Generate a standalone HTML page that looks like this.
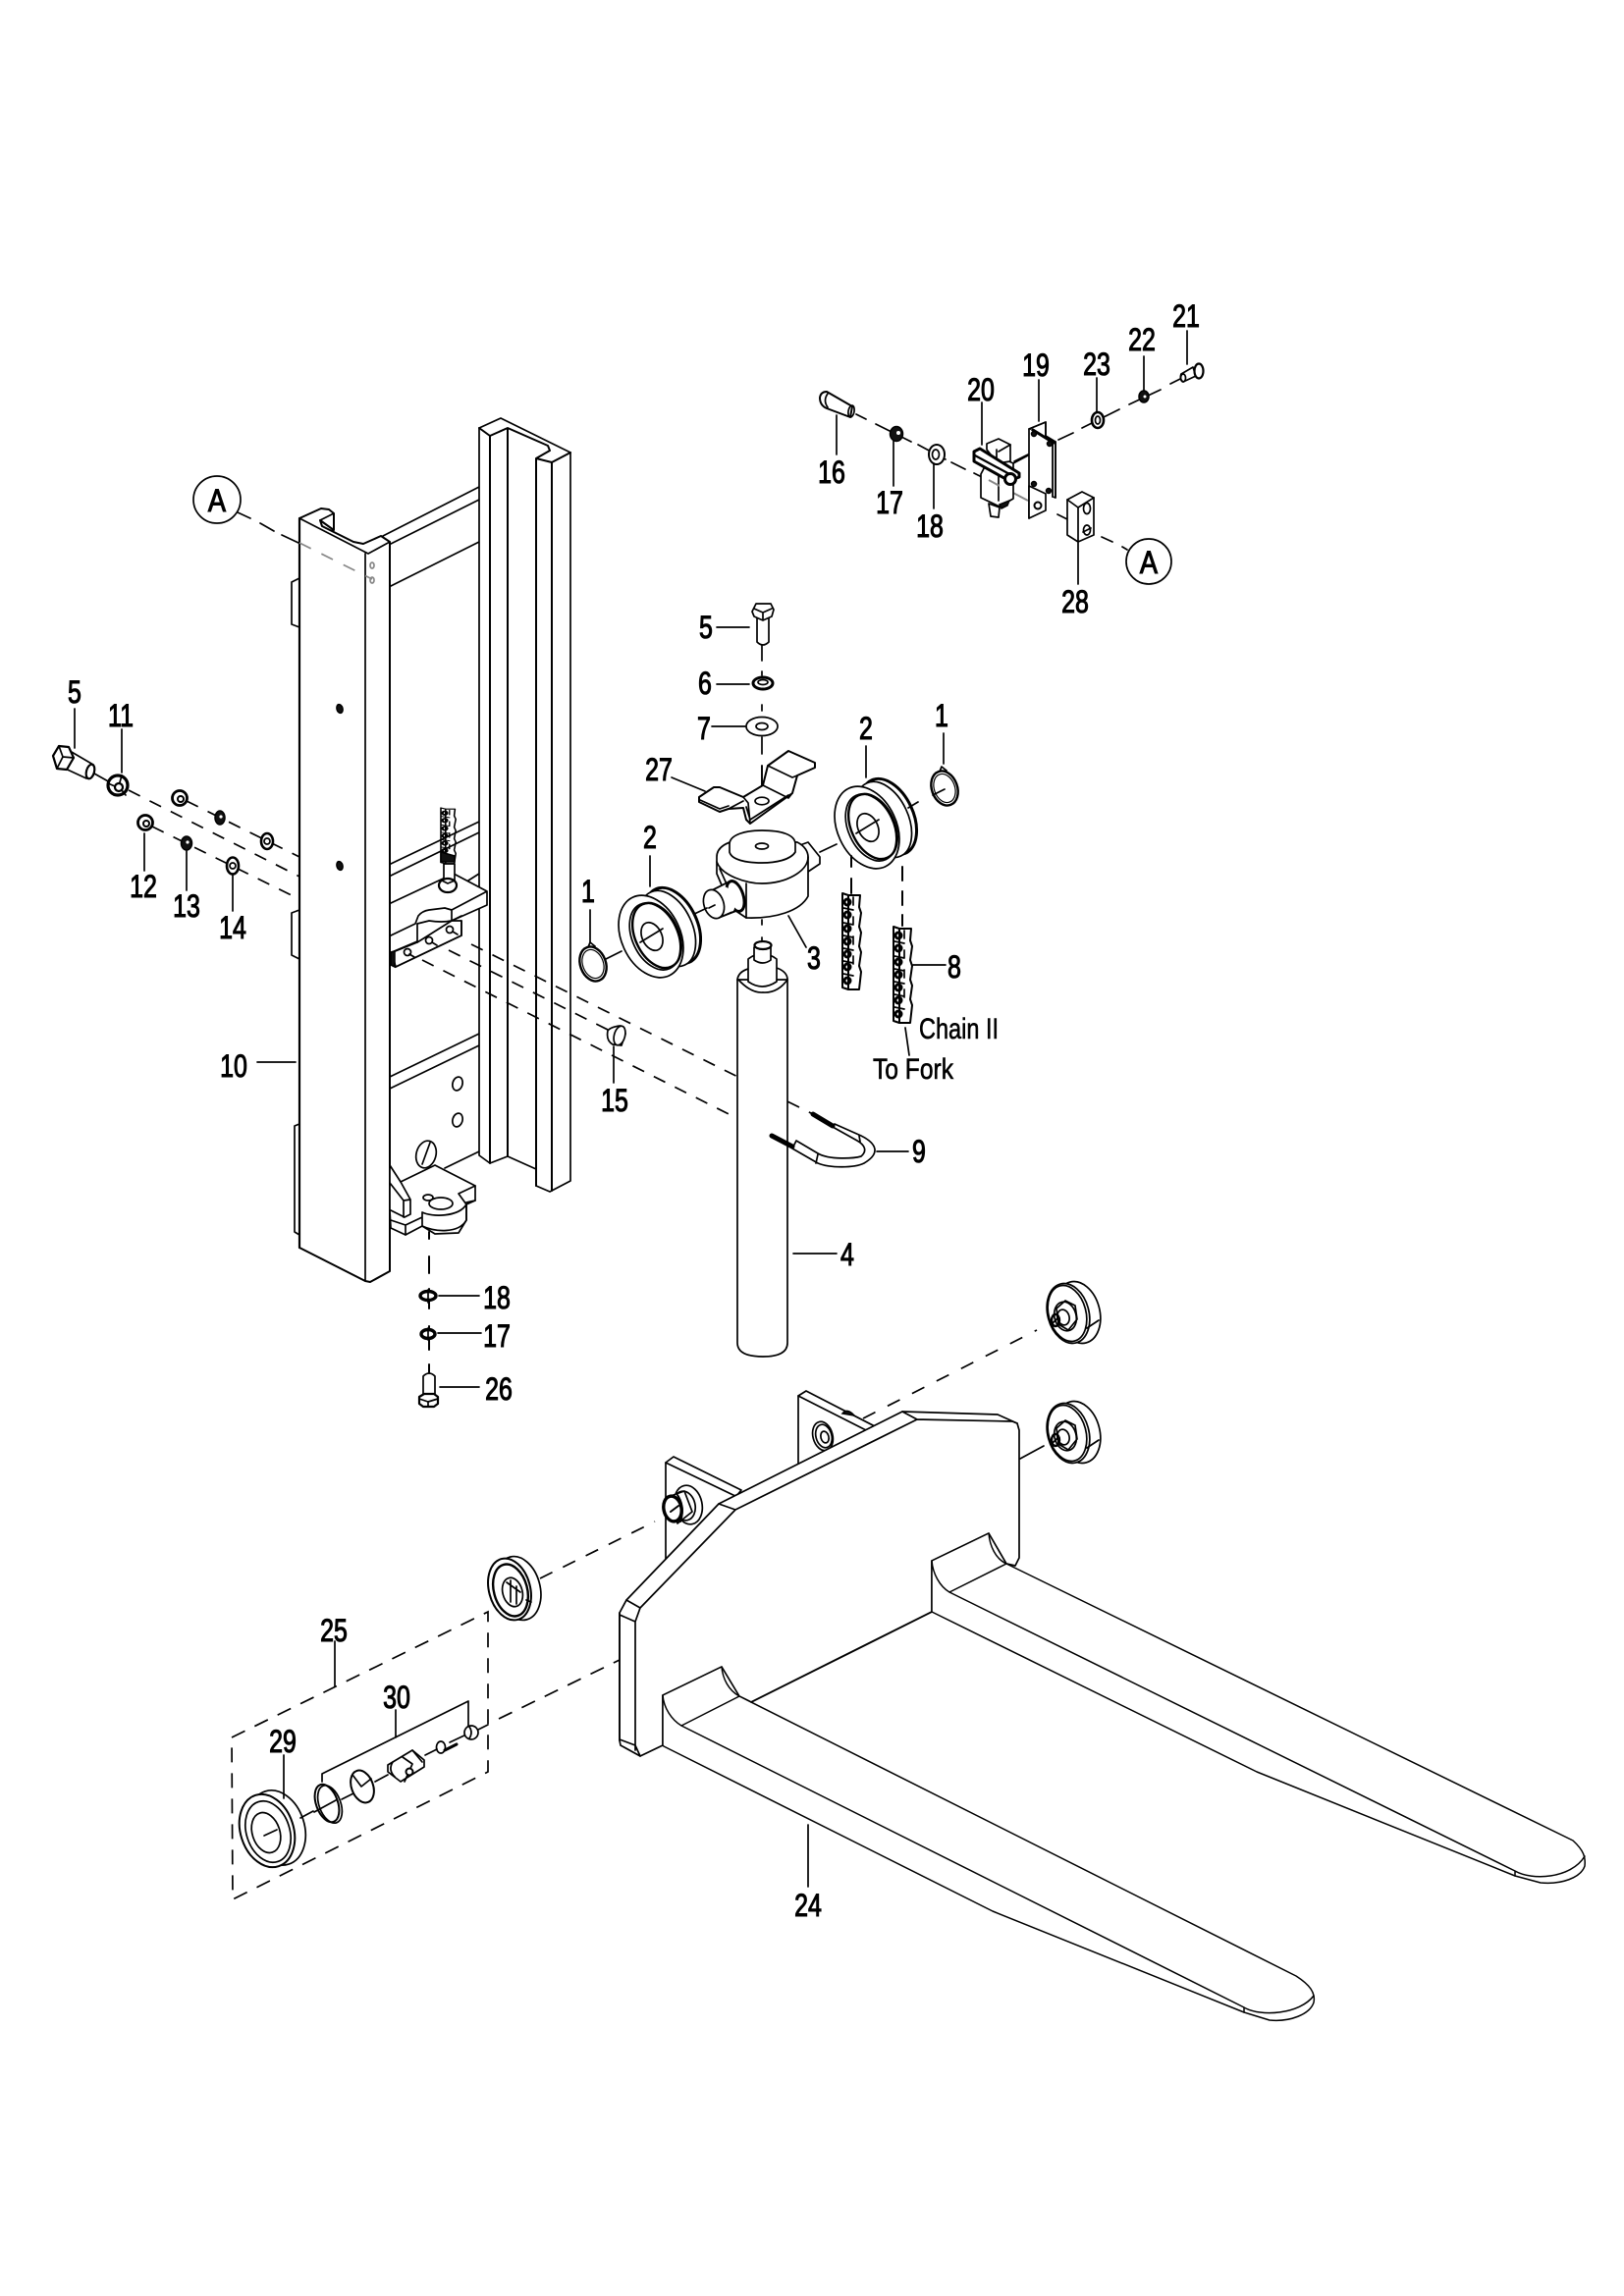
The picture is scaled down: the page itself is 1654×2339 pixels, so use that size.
<!DOCTYPE html>
<html><head><meta charset="utf-8"><title>Parts diagram</title>
<style>
html,body{margin:0;padding:0;background:#fff}
svg{display:block}
.l{fill:none;stroke:#000;stroke-width:1.7;stroke-linejoin:round;stroke-linecap:round}
.w{fill:#fff;stroke:#000;stroke-width:1.7;stroke-linejoin:round}
.b{fill:#fff;stroke:#000;stroke-width:3}
.k{fill:#111;stroke:#000;stroke-width:1.5}
.d{fill:none;stroke:#000;stroke-width:1.7;stroke-dasharray:13 11}
.g{fill:none;stroke:#888;stroke-width:1.7}
.t{font-family:"Liberation Sans",sans-serif;font-size:32px;fill:#000;stroke:#000;stroke-width:1.1;text-anchor:middle}
.s{font-family:"Liberation Sans",sans-serif;font-size:30px;fill:#000;stroke:#000;stroke-width:.6}
</style></head><body>
<svg xmlns="http://www.w3.org/2000/svg" xmlns:xlink="http://www.w3.org/1999/xlink" width="1654" height="2339" viewBox="0 0 1654 2339">
<defs>
<g id="pulley">
<ellipse class="w" cx="905" cy="832" rx="25" ry="41" transform="rotate(-25 905 832)" style="stroke-width:3"/>
<ellipse class="w" cx="900" cy="835" rx="25" ry="41" transform="rotate(-25 900 835)"/>
<ellipse class="w" cx="883" cy="843" rx="30" ry="44" transform="rotate(-25 883 843)"/>
<ellipse class="l" cx="887" cy="843" rx="23" ry="36" transform="rotate(-25 887 843)"/>
<ellipse class="l" cx="889" cy="842" rx="22" ry="35" transform="rotate(-25 889 842)" style="stroke-width:2.4"/>
<ellipse class="l" cx="884" cy="843" rx="10" ry="15" transform="rotate(-25 884 843)"/>
<path class="l" d="M872 849L895 835"/>
</g>
<g id="chain">
<path class="l" d="M0 0L6 2L6 98L0 96ZM6 2L18 2L17 14L19 20L17 34L19 40L17 54L19 60L17 74L19 80L17 98L6 98" style="stroke-width:2"/>
<g class="l" style="stroke-width:3">
<circle cx="5" cy="9" r="3"/><circle cx="5" cy="22" r="3"/><circle cx="5" cy="36" r="3"/><circle cx="5" cy="49" r="3"/><circle cx="5" cy="62" r="3"/><circle cx="5" cy="75" r="3"/><circle cx="5" cy="89" r="3"/>
</g>
<path class="l" d="M1 15L11 17M1 30L11 32M1 43L11 45M1 56L11 58M1 69L11 71M1 82L11 84M11 4V12M11 24V32M11 44V52M11 64V72"/>
</g>
<g id="rw">
<ellipse class="w" cx="1098" cy="1337" rx="22" ry="32" transform="rotate(-15 1098 1337)"/>
<ellipse class="w" cx="1088" cy="1338" rx="21" ry="31" transform="rotate(-15 1088 1338)"/>
<ellipse class="l" cx="1087" cy="1338" rx="19" ry="29" transform="rotate(-15 1087 1338)"/>
<path class="l" d="M1076 1333L1085 1325L1095 1330L1097 1344L1088 1355L1078 1349Z"/>
<ellipse class="l" cx="1085" cy="1341" rx="11" ry="15" transform="rotate(-15 1085 1341)"/>
<ellipse class="l" cx="1083" cy="1342" rx="6" ry="8" transform="rotate(-15 1083 1342)"/>
<ellipse class="l" cx="1075" cy="1345" rx="4" ry="6" style="stroke-width:2.4"/>
<path class="l" d="M1107 1353L1119 1345M1071 1349L1078 1342"/>
</g>
</defs>

<!-- cross bars behind mast -->
<path class="l" d="M390 546L488 496M398 554L488 509M398 597L488 552M398 880L488 837M398 892L488 848M398 920L462 890M477 897L488 890M397 1097L488 1053M397 1109L488 1065M453 1190L488 1173"/>
<ellipse class="l" cx="466" cy="1104" rx="5" ry="7" transform="rotate(15 466 1104)"/>
<ellipse class="l" cx="466" cy="1141" rx="5" ry="7" transform="rotate(15 466 1141)"/>
<ellipse class="l" cx="434" cy="1176" rx="10" ry="14" transform="rotate(15 434 1176)"/>
<path class="l" d="M430 1186L438 1164"/>

<!-- right channel -->
<path class="w" d="M488 436L510 426L581 461L581 1203L560 1214L546 1208L546 1191L517 1178L499 1185L488 1177Z"/>
<path class="l" d="M488 436L499 444L517 436L558 454L560 459L546 467L562 471L581 461M499 444V1185M517 436V1178M546 467V1208M562 471V1213" style="stroke-width:2"/>

<!-- dashed lines through channel -->
<path class="d" d="M480 962L828 1135"/>
<path class="d" d="M457 968L623 1051"/>
<path class="d" d="M430 978L786 1157"/>

<!-- mast front -->
<path class="w" d="M305 528L327 518L335 519L340 523L340 540L326 530L328 536L360 552L370 554L388 546L397 552L397 1295L377 1306L372 1305L305 1271Z" style="stroke-width:2"/>
<path class="l" d="M305 528L375 564L397 552M372 564V1305M326 530L340 523"/>
<path class="l" d="M305 528V1271" style="stroke-width:2.2"/>
<path class="l" d="M305 589L297 593V636L305 639M305 927L297 930V973L305 977M305 1145L300 1147V1255L305 1258"/>
<ellipse class="k" cx="346" cy="722" rx="3" ry="4.5" transform="rotate(-15 346 722)"/>
<ellipse class="k" cx="346" cy="882" rx="3" ry="4.5" transform="rotate(-15 346 882)"/>
<ellipse class="g" cx="379" cy="576" rx="2" ry="3"/>
<ellipse class="g" cx="379" cy="591" rx="2" ry="3"/>

<!-- A left -->
<ellipse class="l" cx="221" cy="509" rx="24" ry="24"/>
<text class="t" transform="translate(221 521) scale(.85 1)">A</text>
<path class="l" d="M242 522L255 528M265 533L279 541M287 545L304 553"/>
<path class="g" stroke-dasharray="13 12" d="M305 553L379 590"/>

<!-- mid bracket -->
<path class="w" d="M399 971L400 970L425 960L460 938L470 938L470 953L403 985L399 983Z"/>
<path class="w" d="M398 946L423 934L425 925L437 920L453 918L462 890L496 908L496 922L460 938L425 950Z" style="fill:#fff;stroke:none"/>
<path class="l" d="M398 953L423 941M425 941V960M423 941L426 933Q430 928 437 927L453 925L460 927L496 908L462 890M496 908V922L460 938V927M425 941L437 938Q450 940 460 938"/>
<path class="l" d="M399 970L425 959M470 938V953L403 985L399 983V970L403 985M460 938L470 933" />
<path class="k" d="M398 970L402 969V985L398 983Z"/>
<circle class="l" cx="415" cy="970" r="3.5"/><path class="l" d="M417 972L422 975"/>
<circle class="l" cx="437" cy="958" r="3.5"/><path class="l" d="M440 960L445 963"/>
<circle class="l" cx="458" cy="947" r="3.5"/><path class="l" d="M461 949L466 952"/>
<use xlink:href="#chain" href="#chain" transform="translate(449 823) scale(.8 .58)"/>
<path class="k" d="M449 868L463 872V878L449 878Z"/>
<path class="w" d="M452 880H463V898H452Z"/>
<ellipse class="w" cx="456" cy="902" rx="9" ry="7" style="stroke-width:2.2"/>
<path class="l" d="M450 897L456 900L463 897"/>

<!-- bottom bracket -->
<path class="w" d="M397 1187L408 1204L443 1187L484 1208V1223L475 1227V1243L467 1256L443 1257L430 1249L413 1258L398 1251L397 1233Z"/>
<path class="l" d="M408 1204L418 1222V1237L412 1240L398 1233M397 1205L411 1223L418 1222M411 1223V1240M398 1243L413 1248V1258M413 1248L430 1240M430 1235V1249M430 1235C440 1240 467 1240 475 1227V1243C467 1257 443 1255 430 1249M467 1216L475 1227M467 1216L484 1208M475 1225L484 1223"/>
<ellipse class="l" cx="449" cy="1226" rx="12" ry="6"/>
<ellipse class="l" cx="436" cy="1220" rx="5" ry="3"/>

<!-- 18 17 26 -->
<path class="l" d="M437 1255V1262M437 1280V1297M437 1313V1333M437 1351V1375M437 1390V1400" style="stroke-width:2"/>
<ellipse class="b" cx="436" cy="1320" rx="8" ry="4.5" style="stroke-width:3.4"/>
<ellipse class="b" cx="436" cy="1359" rx="7" ry="4.5" style="stroke-width:3.4"/>
<path class="l" d="M436 1314V1327M436 1353V1365"/>
<path class="w" d="M431 1402Q437 1396 443 1402V1421H431Z"/>
<path class="w" d="M427 1423L432 1420H442L446 1423V1430L442 1433H431L427 1430Z" style="stroke-width:2.2"/>
<path class="l" d="M427 1425L436 1428L446 1425M436 1428V1433"/>

<!-- leaders bottom left -->
<path class="l" d="M447 1320H488M446 1358H490M448 1413H488M262 1082H301M625 1066V1103"/>

<!-- left axes -->
<path class="d" d="M190 816L305 873"/>
<path class="d" d="M131 805L305 893"/>
<path class="d" d="M155 842L305 916"/>
<path class="w" d="M66 762L95 779L88 793L60 780Z"/>
<ellipse class="w" cx="92" cy="786" rx="4" ry="7.5" transform="rotate(15 92 786)" style="stroke-width:2.2"/>
<path class="w" d="M54 770L60 760L70 761L75 772L68 784L58 783Z" style="stroke-width:2.2"/>
<path class="l" d="M60 760L64 771L58 783M64 771L75 772M96 788L112 797"/>
<circle class="b" cx="120" cy="800" r="10" style="stroke-width:3.2"/>
<circle class="l" cx="121" cy="802" r="4" style="stroke-width:2.2"/>
<path class="l" d="M110 798L117 801M124 790L122 797M124 805L128 810"/>
<circle class="b" cx="183" cy="813" r="7.5" style="stroke-width:2.8"/>
<circle class="l" cx="184" cy="814" r="3" style="stroke-width:2"/>
<ellipse class="k" cx="224" cy="833" rx="5" ry="7"/><circle cx="225" cy="832" r="1.6" fill="#fff"/>
<ellipse class="b" cx="272" cy="857" rx="6" ry="8" style="stroke-width:2.6"/>
<circle class="l" cx="272" cy="857" r="3"/>
<circle class="b" cx="148" cy="838" r="7.5" style="stroke-width:2.8"/>
<circle class="l" cx="149" cy="839" r="3" style="stroke-width:2"/>
<ellipse class="k" cx="190" cy="859" rx="5.5" ry="7"/><circle cx="191" cy="858" r="1.6" fill="#fff"/>
<ellipse class="b" cx="237" cy="882" rx="6" ry="8.5" style="stroke-width:2.6"/>
<circle class="l" cx="237" cy="882" r="3"/>
<path class="l" d="M76 722V762M124 743V787M147 849V887M190 867V907M237 890V928"/>

<!-- pin 15 -->
<path class="w" d="M619 1050Q622 1046 632 1045L637 1053L633 1065L624 1064Q617 1060 619 1050Z"/>
<ellipse class="w" cx="631" cy="1055" rx="5.5" ry="10" transform="rotate(15 631 1055)"/>

<!-- cylinder 4 -->
<path class="w" d="M751 998V1368Q751 1382 777 1382Q802 1382 802 1368V1000L802 998Z"/>
<path class="l" d="M751 998Q752 990 762 987M802 998Q802 990 791 986M752 998Q765 1012 777 1011Q792 1012 802 998"/>
<path class="w" d="M762 977V1000Q776 1010 791 1000V977Q776 966 762 977Z"/>
<path class="w" d="M768 965V978Q777 984 785 978V965Z"/>
<ellipse class="w" cx="777" cy="963" rx="8.5" ry="4" style="stroke-width:2.2"/>
<path class="l" d="M776 937V942M776 955V958"/>
<path class="l" d="M808 1277H852"/>

<!-- U bolt 9 -->
<path class="w" d="M850 1145L877 1157C893 1165 897 1175 880 1185C870 1190 845 1190 833 1185L807 1170L811 1162L833 1175C845 1182 870 1180 877 1178C884 1172 880 1166 873 1162L848 1148Z"/>
<path class="l" d="M875 1157L876 1163M833 1176L831 1185"/>
<path class="l" d="M828 1135L848 1147M786 1157L807 1168" style="stroke-width:5"/>
<path class="l" d="M893 1173H925"/>

<!-- block 3 -->
<path class="w" d="M812 862L823 858L835 873V880L823 888L812 892Z"/>
<path class="w" d="M730 873C730 862 742 858 750 856L812 858C820 862 823 868 823 873V913C815 928 790 936 760 935L745 925L730 890Z"/>
<path class="l" d="M730 878C735 892 760 900 776 900C800 900 823 888 823 873M760 900V935M733 885L742 905"/>
<path class="w" d="M743 860C743 850 760 846 776 846C795 846 810 850 810 860V868C805 876 790 879 776 879C760 879 745 876 743 868Z"/>
<path class="l" d="M743 860C745 870 760 874 776 874M810 860V868"  style="stroke:none"/>
<ellipse class="l" cx="776" cy="862" rx="6.5" ry="3"/>
<path class="w" d="M723 908L743 898L755 925L732 935Z"/>
<ellipse class="b" cx="749" cy="913" rx="8" ry="16" transform="rotate(-18 749 913)"/>
<ellipse class="w" cx="742" cy="916" rx="5" ry="13" transform="rotate(-18 742 916)" style="stroke:none"/>
<path class="l" d="M723 908L743 898M732 935L750 928"/>
<ellipse class="w" cx="727" cy="921" rx="10" ry="15" transform="rotate(-18 727 921)"/>
<path class="l" d="M728 922L722 925M720 925L703 933M852 860L835 868M803 933L821 965"/>

<!-- bolt 5,6,7 -->
<path class="w" d="M771 628V654Q777 660 783 654V628Z"/>
<path class="w" d="M766 623L770 615H785L788 621L786 628L777 632L768 628Z"/>
<path class="l" d="M768 620L777 624L786 620M777 624V631M776 658V673M776 684V688M776 718V724M776 751V768M776 780V800"/>
<ellipse class="b" cx="777" cy="696" rx="10" ry="6"/>
<ellipse class="l" cx="777" cy="695" rx="5" ry="2.5"/>
<ellipse class="w" cx="776" cy="740" rx="16" ry="9.5"/>
<ellipse class="l" cx="776" cy="740" rx="6" ry="3.5"/>
<path class="l" d="M730 639H763M730 697H763M725 740H759"/>

<!-- bracket 27 -->
<path class="w" d="M712 812L727 802L733 802L757 812L777 800L782 780L803 765L830 777V782L812 790L807 808L764 839L760 835L757 823L742 824L733 827L712 817Z" style="stroke-width:2"/>
<path class="l" d="M782 780L807 792L812 790M777 800L803 813L807 808M757 812L762 818L764 839M742 824L757 816M713 815L733 824L742 821M760 822L764 835L803 810"/>
<path class="l" d="M776 780V800"/>
<ellipse class="l" cx="776" cy="816" rx="7" ry="3.8"/>
<path class="l" d="M684 792L718 806"/>

<!-- pulleys -->
<use xlink:href="#pulley" href="#pulley"/>
<use xlink:href="#pulley" href="#pulley" transform="translate(-220 111)"/>

<!-- rings 1 -->
<ellipse class="l" cx="962" cy="803" rx="13" ry="18" transform="rotate(-20 962 803)" style="stroke-width:2.4"/>
<ellipse class="l" cx="962" cy="803" rx="10.5" ry="15" transform="rotate(-20 962 803)" style="stroke-width:1.2"/>
<ellipse class="l" cx="604" cy="982" rx="13" ry="18" transform="rotate(-20 604 982)" style="stroke-width:2.4"/>
<ellipse class="l" cx="604" cy="982" rx="10.5" ry="15" transform="rotate(-20 604 982)" style="stroke-width:1.2"/>
<path class="l" d="M957 786L959 781L964 785M599 965L601 960L606 964"/>
<path class="l" d="M935 817L925 823M962 804L950 810M617 977L633 969M961 747V778M601 927V960M882 760V792M662 872V903"/>

<!-- chains -->
<path class="l" d="M867 872V883M867 895V910M919 883V897M919 908V922M919 932V943" style="stroke-width:2"/>
<use xlink:href="#chain" href="#chain" transform="translate(858 910)"/>
<use xlink:href="#chain" href="#chain" transform="translate(910 944)"/>
<path class="l" d="M930 983H963M922 1047L926 1075"/>

<!-- top right assembly -->
<path class="w" d="M835 405Q836 399 842 399L868 414L866 425L842 416Q835 413 835 405Z" style="stroke-width:2"/>
<ellipse class="l" cx="867" cy="419" rx="3" ry="6" transform="rotate(10 867 419)"/>
<path class="l" d="M843 401Q838 408 843 415"/>
<path class="l" d="M872 422L882 427M892 432L912 442M918 445L928 450M935 453L963 468M969 471L983 478M992 482L1002 487M1077 524L1087 529M1122 547L1133 552M1143 557L1148 560"/>
<path class="g" d="M1007 489L1047 510" style="stroke-width:2"/>
<path class="l" d="M1192 391L1202 386M1150 412L1182 397M1102 436L1140 417M1078 448L1093 441M1052 462L1070 452M1032 472L1047 464"/>
<ellipse class="k" cx="913" cy="442" rx="6.5" ry="7.5"/><circle cx="915" cy="441" r="2" fill="#fff"/>
<ellipse class="b" cx="954" cy="463" rx="8" ry="10" style="stroke-width:2"/>
<ellipse class="l" cx="953" cy="463" rx="3.5" ry="5"/>
<ellipse class="b" cx="1118" cy="428" rx="6" ry="8" style="stroke-width:2.6"/>
<ellipse class="l" cx="1118" cy="428" rx="2.5" ry="4"/>
<ellipse class="k" cx="1165" cy="404" rx="5" ry="6"/><circle cx="1166" cy="404" r="1.5" fill="#fff"/>
<path class="w" d="M1203 381L1215 374L1218 383L1205 389Q1201 386 1203 381Z"/>
<ellipse class="l" cx="1205" cy="385" rx="2.5" ry="4"/>
<ellipse class="b" cx="1221" cy="378" rx="4.5" ry="7.5" style="stroke-width:2.2"/>

<!-- plate 19 -->
<path class="w" d="M1048 437L1065 430V444L1075 450V507L1072 506V452L1048 437Z"/>
<path class="w" d="M1048 437L1072 452V506L1065 503L1048 495Z" style="stroke:none"/>
<path class="l" d="M1072 452V506M1075 450V507"/>
<path class="l" d="M1048 437V528M1048 437L1065 430V444"/>
<path class="w" d="M1048 495L1065 503V520L1048 528Z"/>
<path class="l" d="M1052 438L1073 451" style="stroke-width:3"/>
<circle class="k" cx="1053" cy="442" r="2.5"/><circle class="k" cx="1069" cy="452" r="2.5"/>
<circle class="k" cx="1053" cy="493" r="2.5"/><circle class="k" cx="1068" cy="500" r="2.5"/>
<circle class="b" cx="1057" cy="515" r="3.5" style="stroke-width:2"/>

<!-- switch 20 -->
<path class="w" d="M999 483V507L1018 516L1032 508V472L1010 462Z"/>
<path class="w" d="M1005 452L1017 447L1029 453V470L1016 472L1005 458Z"/>
<path class="l" d="M1015 458V467M1017 460L1029 453M1017 510V485"/>
<path class="w" d="M1007 513L1009 526L1017 527L1018 517Z"/>
<path class="k" d="M1018 514L1028 510L1026 515L1020 518Z"/>
<path class="w" d="M992 460L998 457L1038 482V486L1028 490L992 470Z" style="stroke-width:3"/>
<path class="l" d="M993 464L1030 484" style="stroke-width:2.2"/>
<circle class="b" cx="1029" cy="488" r="5.5"/>
<path class="l" d="M1033 470L1047 463"/>
<path class="g" d="M1007 489L1018 495" style="stroke-width:2"/>

<!-- block 28 -->
<path class="w" d="M1087 509L1102 501L1114 507V545L1098 552L1087 545Z"/>
<path class="l" d="M1087 509L1098 517L1114 507M1098 517V552"/>
<ellipse class="l" cx="1107" cy="518" rx="3.5" ry="5.5"/>
<ellipse class="l" cx="1107" cy="540" rx="3.5" ry="5"/>
<path class="l" d="M1103 542L1111 538"/>

<!-- A right -->
<ellipse class="l" cx="1170" cy="572" rx="23" ry="23"/>
<text class="t" transform="translate(1170 584) scale(.85 1)">A</text>

<!-- top leaders -->
<path class="l" d="M1209 337V371M1165 363V398M1117 385V420M1058 387V429M1000 410V453M852 423V463M910 449V495M951 472V518M1098 553V595"/>

<!-- far wheels and dashes -->
<path class="d" d="M879 1445L1056 1355" style="stroke-dasharray:14 14"/>
<path class="l" d="M1039 1486L1063 1473"/>
<use xlink:href="#rw" href="#rw"/>
<use xlink:href="#rw" href="#rw" transform="translate(0 122)"/>

<!-- back plates -->
<path class="w" d="M813 1422L821 1417L891 1453L870 1470L813 1495Z"/>
<path class="l" d="M813 1422L886 1459"/>
<ellipse class="l" cx="838" cy="1463" rx="10" ry="15" transform="rotate(-15 838 1463)"/>
<ellipse class="l" cx="839" cy="1463" rx="8" ry="12" transform="rotate(-15 839 1463)"/>
<ellipse class="l" cx="840" cy="1464" rx="4" ry="6" transform="rotate(-15 840 1464)"/>
<path class="k" d="M858 1440Q863 1434 870 1442Z"/>
<path class="w" d="M678 1490L686 1484L755 1518L720 1560L678 1590Z"/>
<path class="l" d="M678 1490L753 1526"/>
<ellipse class="l" cx="701" cy="1533" rx="14" ry="20" transform="rotate(-12 701 1533)"/>
<ellipse class="w" cx="697" cy="1534" rx="11" ry="15" transform="rotate(-12 697 1534)"/>
<path class="w" d="M683 1524L697 1519L705 1540L690 1552Z" />
<ellipse class="b" cx="685" cy="1537" rx="9" ry="13" transform="rotate(-12 685 1537)" style="stroke-width:3.4"/>
<path class="l" d="M683 1540L691 1534M690 1523Q698 1535 693 1550" style="stroke-width:2"/>

<!-- fork plate -->
<path class="w" d="M631 1643L638 1630L732 1532L919 1438L1016 1441L1036 1450L1038 1457L1038 1587L1034 1595L1025 1593L1007 1562L949 1590V1642L765 1734L753 1728L735 1698L675 1727V1778L652 1789L632 1778L631 1773Z"/>
<path class="l" d="M631 1643V1773M647 1652V1783M647 1652L652 1638L749 1538L934 1446L1031 1448L1036 1450M638 1630L652 1638M631 1645L647 1652M732 1532L749 1538M919 1438L934 1446M631 1772L647 1778M647 1778L652 1789"/>

<!-- forks -->
<path class="w" d="M675 1727L735 1698C736 1710 742 1722 753 1728L1320 2013C1334 2022 1340 2030 1338 2040C1334 2052 1314 2060 1293 2058L1267 2050L1011 1947L676 1779L675 1778Z" style="stroke-width:1.5"/>
<path class="l" d="M675 1727C676 1740 684 1752 694 1758L1267 2045C1284 2055 1324 2052 1338 2033M694 1758L753 1728M1267 2045V2050" style="stroke-width:1.5"/>
<path class="w" d="M949 1590L1007 1562C1008 1575 1014 1588 1025 1593L1602 1875C1613 1885 1615 1892 1614 1901C1610 1913 1590 1920 1569 1918L1543 1911L1280 1805L949 1642Z" style="stroke-width:1.5"/>
<path class="l" d="M949 1590C950 1603 957 1616 967 1622L1543 1906C1560 1916 1600 1914 1614 1891M967 1622L1025 1593M1543 1906V1911" style="stroke-width:1.5"/>
<path class="l" d="M765 1734L949 1642"/>
<path class="l" d="M823 1859V1922"/>

<!-- left roller -->
<path class="d" d="M550 1608L667 1550" style="stroke-dasharray:14 12"/>
<ellipse class="w" cx="528" cy="1618" rx="22" ry="33" transform="rotate(-15 528 1618)"/>
<ellipse class="w" cx="519" cy="1619" rx="21" ry="32" transform="rotate(-15 519 1619)" style="stroke-width:2"/>
<ellipse class="l" cx="520" cy="1620" rx="17" ry="27" transform="rotate(-15 520 1620)" style="stroke-width:2.4"/>
<ellipse class="l" cx="522" cy="1622" rx="10" ry="15" transform="rotate(-15 522 1622)"/>
<path class="l" d="M520 1610V1632M526 1616V1634M516 1612L530 1622M536 1630L541 1632"/>

<!-- box 25 -->
<path class="d" d="M236 1770L497 1642V1805L237 1935Z" style="stroke-dasharray:15 11"/>
<path class="d" d="M508 1751L631 1691" style="stroke-dasharray:15 11"/>

<!-- bearing 29 -->
<ellipse class="w" cx="282" cy="1862" rx="28" ry="39" transform="rotate(-18 282 1862)"/>
<ellipse class="w" cx="272" cy="1865" rx="27" ry="38" transform="rotate(-18 272 1865)" style="stroke-width:2"/>
<ellipse class="l" cx="273" cy="1866" rx="22" ry="32" transform="rotate(-18 273 1866)"/>
<ellipse class="l" cx="271" cy="1867" rx="14" ry="21" transform="rotate(-18 271 1867)"/>
<path class="l" d="M269 1870L282 1864M306 1852L319 1845"/>
<ellipse class="l" cx="333" cy="1837" rx="11" ry="20" transform="rotate(-20 333 1837)" style="stroke-width:2"/>
<ellipse class="l" cx="336" cy="1838" rx="11" ry="20" transform="rotate(-20 336 1838)"/>
<path class="l" d="M320 1846L342 1834M348 1833L360 1827"/>
<ellipse class="w" cx="369" cy="1820" rx="11" ry="17" transform="rotate(-20 369 1820)" style="stroke-width:2"/>
<path class="l" d="M359 1808L368 1820L378 1812M382 1815L395 1808"/>
<path class="w" d="M395 1798L420 1783L432 1793V1800L408 1815L395 1805Z"/>
<path class="l" d="M400 1795Q395 1803 402 1810M410 1790L420 1797L412 1815M420 1783L430 1795"/>
<circle class="b" cx="417" cy="1805" r="3.5" style="stroke-width:2"/>
<path class="l" d="M433 1788L445 1782"/>
<ellipse class="l" cx="449" cy="1780" rx="4.5" ry="6"/>
<path class="l" d="M453 1783L465 1777" style="stroke-width:3"/>
<path class="l" d="M458 1775L475 1767"/>
<circle class="w" cx="480" cy="1765" r="7"/>
<path class="l" d="M478 1759Q482 1765 478 1771M487 1762L497 1757"/>
<path class="l" d="M328 1815V1807L477 1733V1758M341 1672V1718M403 1742V1770M289 1788V1832"/>

<!-- labels -->
<text class="t" transform="translate(719 650) scale(.78 1)">5</text>
<text class="t" transform="translate(718 707) scale(.78 1)">6</text>
<text class="t" transform="translate(717 753) scale(.78 1)">7</text>
<text class="t" transform="translate(671 795) scale(.78 1)">27</text>
<text class="t" transform="translate(662 864) scale(.78 1)">2</text>
<text class="t" transform="translate(882 753) scale(.78 1)">2</text>
<text class="t" transform="translate(959 740) scale(.78 1)">1</text>
<text class="t" transform="translate(599 919) scale(.78 1)">1</text>
<text class="t" transform="translate(829 987) scale(.78 1)">3</text>
<text class="t" transform="translate(972 996) scale(.78 1)">8</text>
<text class="s" x="936" y="1058" textLength="81" lengthAdjust="spacingAndGlyphs">Chain II</text>
<text class="s" x="889" y="1099" textLength="82" lengthAdjust="spacingAndGlyphs">To Fork</text>
<text class="t" transform="translate(936 1184) scale(.78 1)">9</text>
<text class="t" transform="translate(863 1289) scale(.78 1)">4</text>
<text class="t" transform="translate(626 1132) scale(.78 1)">15</text>
<text class="t" transform="translate(506 1333) scale(.78 1)">18</text>
<text class="t" transform="translate(506 1372) scale(.78 1)">17</text>
<text class="t" transform="translate(508 1426) scale(.78 1)">26</text>
<text class="t" transform="translate(76 716) scale(.78 1)">5</text>
<text class="t" transform="translate(123 740) scale(.78 1)">11</text>
<text class="t" transform="translate(146 914) scale(.78 1)">12</text>
<text class="t" transform="translate(190 934) scale(.78 1)">13</text>
<text class="t" transform="translate(237 956) scale(.78 1)">14</text>
<text class="t" transform="translate(238 1097) scale(.78 1)">10</text>
<text class="t" transform="translate(1208 333) scale(.78 1)">21</text>
<text class="t" transform="translate(1163 357) scale(.78 1)">22</text>
<text class="t" transform="translate(1117 382) scale(.78 1)">23</text>
<text class="t" transform="translate(1055 383) scale(.78 1)">19</text>
<text class="t" transform="translate(999 408) scale(.78 1)">20</text>
<text class="t" transform="translate(847 492) scale(.78 1)">16</text>
<text class="t" transform="translate(906 523) scale(.78 1)">17</text>
<text class="t" transform="translate(947 547) scale(.78 1)">18</text>
<text class="t" transform="translate(1095 624) scale(.78 1)">28</text>
<text class="t" transform="translate(340 1672) scale(.78 1)">25</text>
<text class="t" transform="translate(404 1740) scale(.78 1)">30</text>
<text class="t" transform="translate(288 1785) scale(.78 1)">29</text>
<text class="t" transform="translate(823 1952) scale(.78 1)">24</text>
</svg>
</body></html>
